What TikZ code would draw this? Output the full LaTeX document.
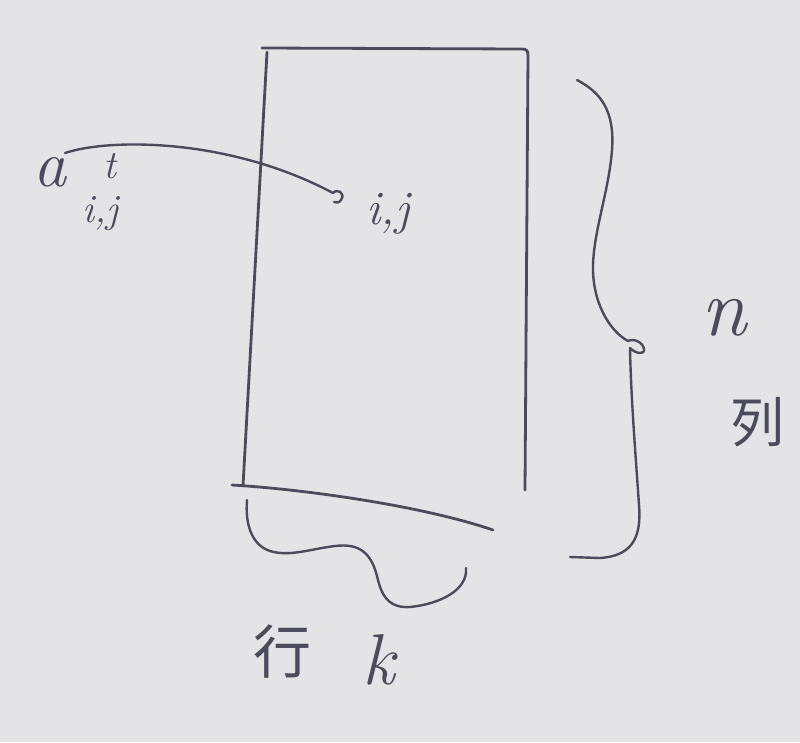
\documentclass[tikz,border=0pt]{standalone}
\usepackage{fontspec}
\newfontfamily\cjk{Noto Sans CJK SC}
\definecolor{board}{HTML}{E4E4E6}
\definecolor{ink}{HTML}{4C4B5C}
\tikzset{
  pen/.style={draw=ink, line width=2.8pt, line cap=round, line join=round},
  thinpen/.style={draw=ink, line width=2.4pt, line cap=round, line join=round},
  lab/.style={text=ink, inner sep=0pt, outer sep=0pt},
}
\begin{document}
\begin{tikzpicture}[x=1pt,y=-1pt]
\useasboundingbox (0,0) rectangle (800,742);
\fill[board] (0,0) rectangle (800,742);
% rectangle (matrix)
\coordinate (tl) at (262,48);
\coordinate (br) at (525,490);
\coordinate (bl) at (243,486);
\draw[pen] (tl) -- (522,49) .. controls (527,49) and (528,51) .. (528,56) -- (br);
\draw[pen] (267,52) -- (bl);
% bottom line
\draw[pen] (232,485) .. controls (300,489) and (420,505) .. (493,530);
% bottom wavy brace
\draw[thinpen] (247,500) .. controls (245,525) and (252,545) .. (270,551)
  .. controls (290,557) and (310,549) .. (335,546)
  .. controls (360,543) and (372,553) .. (378,580)
  .. controls (383,600) and (392,608) .. (410,607)
  .. controls (440,604) and (468,590) .. (466,568);
% right brace with loop
\draw[thinpen] (577,80) .. controls (600,92) and (615,110) .. (612,150)
  .. controls (609,190) and (594,230) .. (593,265)
  .. controls (592,300) and (608,330) .. (628,341)
  .. controls (633,338) and (643,342) .. (644,349)
  .. controls (645,355) and (636,354) .. (630,348)
  .. controls (631,400) and (636,460) .. (639,505)
  .. controls (642,540) and (630,556) .. (600,558)
  -- (570,557);
% labels
\node[lab, font=\fontsize{66}{70}\selectfont\itshape] (a) at (50,172) {a};
\node[lab, font=\fontsize{40}{44}\selectfont\itshape] (t) at (110,166) {t};
\node[lab, font=\fontsize{40}{44}\selectfont\itshape] (sub) at (100,214) {i,j};
\node[lab, font=\fontsize{48}{52}\selectfont\itshape] (ij) at (388,214) {i,j};
\node[lab, font=\fontsize{82}{86}\selectfont\itshape] (n) at (724,318) {n};
\node[lab, font=\fontsize{54}{58}\selectfont\cjk] (col) at (757,422) {列};
\node[lab, font=\fontsize{58}{62}\selectfont\cjk] (row) at (282,652) {行};
\node[lab, font=\fontsize{72}{76}\selectfont\itshape] (k) at (379,660) {k};
% arrow
\coordinate (astart) at (65,153);
\coordinate (aend) at (333,193);
\draw[thinpen] (astart) .. controls (110,138) and (230,138) .. (aend)
  .. controls (337,188) and (346,193) .. (341,200)
  .. controls (339,203) and (336,203) .. (334,202);
\end{tikzpicture}
\end{document}
